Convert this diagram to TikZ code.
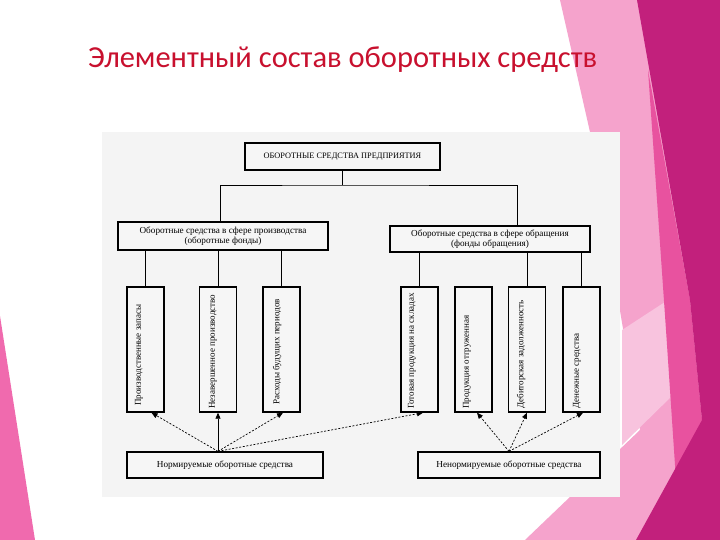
\documentclass[tikz,border=0pt]{standalone}
\usepackage{fontspec}
\setmainfont{Liberation Serif}
\newfontfamily\titlefont{Carlito}
\usetikzlibrary{arrows.meta,calc}
\definecolor{titlered}{HTML}{C8102E}
\definecolor{lightpink}{HTML}{F5A3CC}
\definecolor{palepink}{HTML}{F8C3DE}
\definecolor{midpink}{HTML}{E8529F}
\definecolor{darkmag}{HTML}{C2207C}
\definecolor{hotpink}{HTML}{F06AAE}
\definecolor{panel}{HTML}{F4F4F4}
\definecolor{boxfill}{HTML}{F6F6F6}
\tikzset{
  box/.style={draw=black, line width=1.3pt, fill=boxfill, inner sep=1pt, align=center,
    font=\fontsize{9.2}{10}\selectfont},
  tallbox/.style={draw=black, line width=1.4pt, fill=boxfill, minimum width=37pt, minimum height=125pt},
  vtext/.style={rotate=90, anchor=west, inner sep=0pt, font=\fontsize{9}{10}\selectfont},
  conn/.style={line width=0.8pt},
  arr/.style={-{Triangle[length=6pt,width=5pt]}, line width=0.7pt},
  darr/.style={arr, dash pattern=on 2pt off 1.6pt}
}
\begin{document}
\begin{tikzpicture}[x=1pt,y=-1pt]
\useasboundingbox (0,0) rectangle (720,540);
\fill[white] (0,0) rectangle (720,540);
% decorative background
\fill[lightpink] (560,0) -- (720,0) -- (720,540) -- (525,540) -- (640,430) -- (590,132) -- cycle;
\fill[palepink] (622,330) -- (668,300) -- (676,392) -- (622,445) -- cycle;
\fill[midpink] (648,70) -- (690,300) -- (702,420) -- (676,480) -- (666,330) -- cycle;
\fill[darkmag] (637,0) -- (720,0) -- (720,540) -- (636,540) -- (702,420) -- (690,300) -- cycle;
\fill[hotpink] (0,316) -- (35,540) -- (0,540) -- cycle;
% title
\node[anchor=base west, inner sep=0pt, text=titlered, font=\titlefont\fontsize{30.5}{33}\selectfont] (title) at (88,68) {Элементный состав оборотных средств};
% diagram panel
\fill[panel] (102,132) rectangle (620,497);
% top box
\node[box, line width=1.6pt, minimum width=195pt, minimum height=27pt, font=\fontsize{8.3}{9}\selectfont] (top) at (342.5,156.5) {ОБОРОТНЫЕ СРЕДСТВА ПРЕДПРИЯТИЯ};
% second level
\node[box, minimum width=210pt, minimum height=28pt] (lbox) at (223,236) {Оборотные средства в сфере производства\\(оборотные фонды)};
\node[box, minimum width=200pt, minimum height=26pt] (rbox) at (490,239) {Оборотные средства в сфере обращения\\(фонды обращения)};
% tall boxes
\node[tallbox] (b1) at (145.5,349.5) {};
\node[tallbox] (b2) at (218,349.5) {};
\node[tallbox] (b3) at (281.5,349.5) {};
\node[tallbox] (b4) at (419.5,349.5) {};
\node[tallbox] (b5) at (473.5,349.5) {};
\node[tallbox] (b6) at (527,349.5) {};
\node[tallbox] (b7) at (581.5,349.5) {};
\node[vtext] (t1) at (139,406) {Производственные запасы};
\node[vtext] (t2) at (213,409) {Незавершенное производство};
\node[vtext] (t3) at (277,405) {Расходы будущих периодов};
\node[vtext] (t4) at (412,409) {Готовая продукция на складах};
\node[vtext] (t5) at (467,409) {Продукция отгруженная};
\node[vtext] (t6) at (521,409) {Дебиторская задолженность};
\node[vtext] (t7) at (577,409) {Денежные средства};
% bottom boxes
\node[box, minimum width=196pt, minimum height=26pt] (norm) at (225,465) {Нормируемые оборотные средства};
\node[box, minimum width=182pt, minimum height=26pt] (nnorm) at (509,465) {Ненормируемые оборотные средства};
% top connectors
\coordinate (bus) at (342.5,185);
\draw[conn] (top.south) -- (bus);
\draw[conn] ([xshift=-3pt]lbox.north) |- (bus) -| ([xshift=27pt]rbox.north);
\foreach \b in {b1,b2,b3} \draw[conn] (lbox.south -| \b.north) -- (\b.north);
\foreach \b in {b4,b6,b7} \draw[conn] (rbox.south -| \b.north) -- (\b.north);
% arrows from normed
\coordinate (nc) at (norm.north -| b2.south);
\draw[darr] (nc) -- ([xshift=6pt]b1.south);
\draw[arr] (nc) -- (b2.south);
\draw[darr] (nc) -- ([xshift=1.5pt]b3.south);
\draw[darr] (nc) -- ([xshift=3.5pt]b4.south);
% arrows from non-normed
\draw[darr] (nnorm.north) -- ([xshift=3.5pt]b5.south);
\draw[darr] (nnorm.north) -- (b6.south);
\draw[darr] (nnorm.north) -- ([xshift=1.5pt]b7.south);
\end{tikzpicture}
\end{document}
